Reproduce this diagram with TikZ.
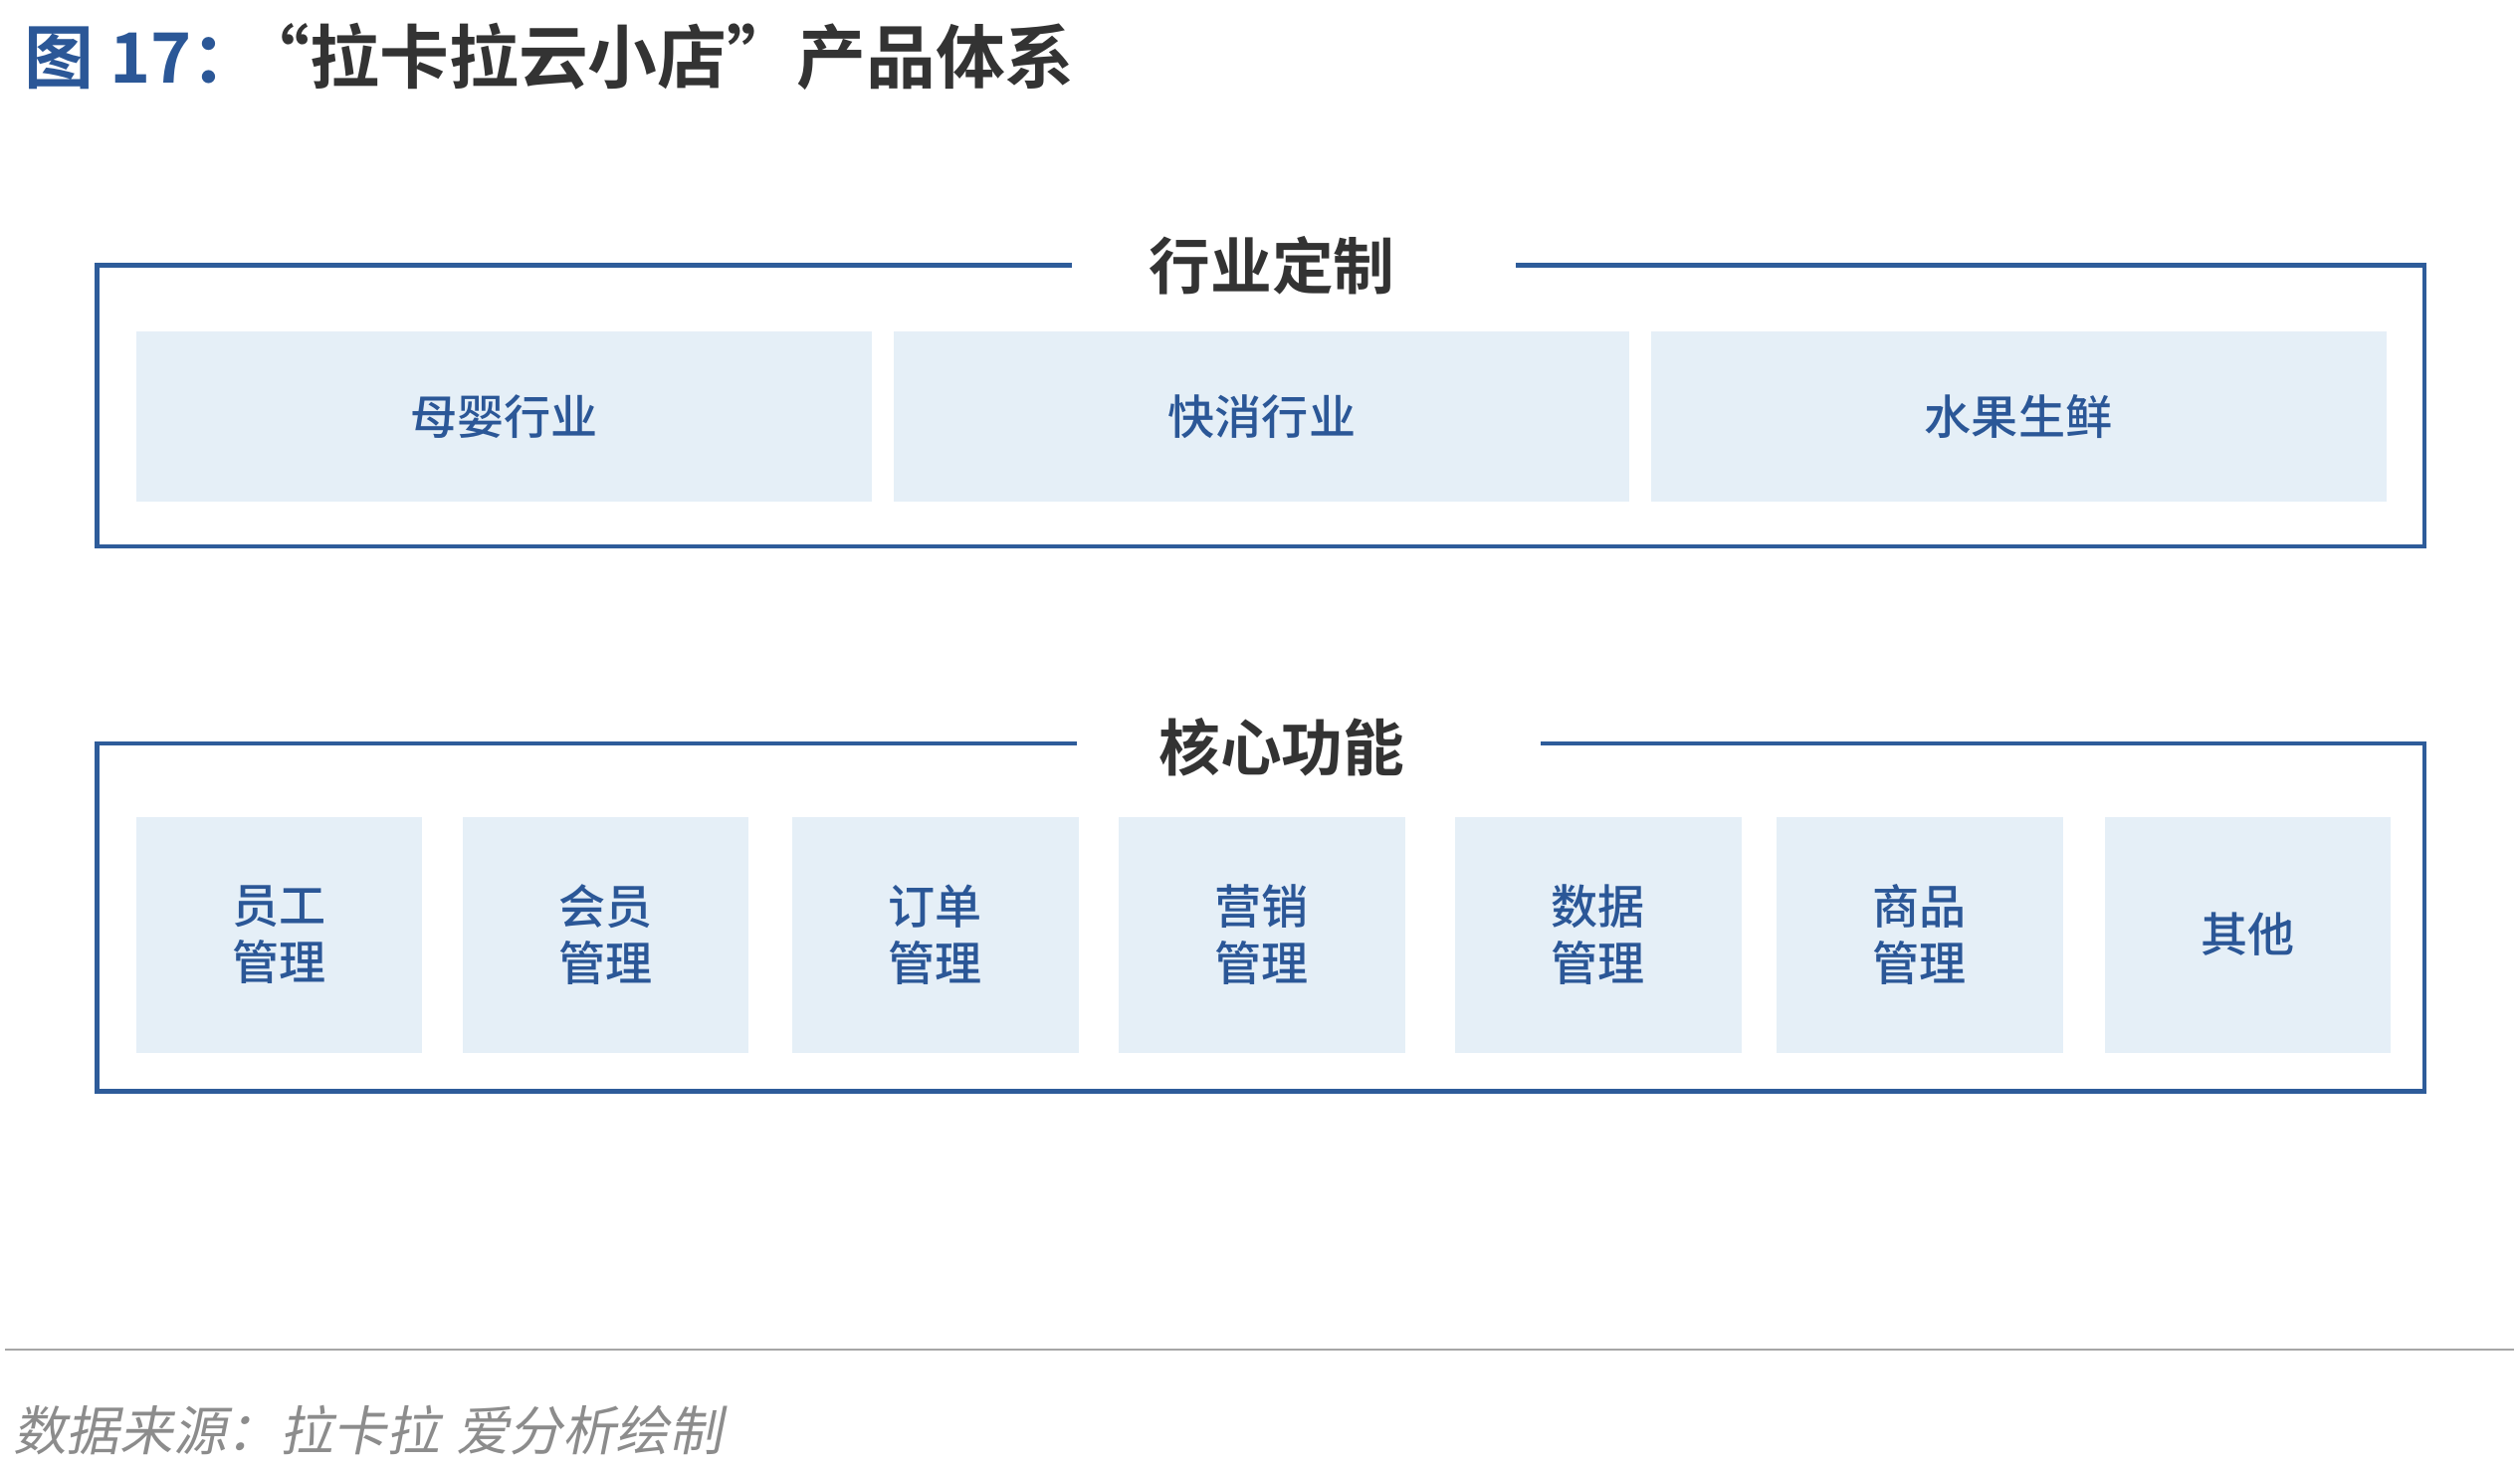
\documentclass[tikz,border=0pt]{standalone}
\usepackage{fontspec}
\setmainfont{Noto Sans CJK SC}
\newfontfamily\cjkb{Noto Sans CJK SC Bold}
\newfontfamily\cjkm{Noto Sans CJK SC Medium}
\newfontfamily\cjkit[FakeSlant=0.2]{Noto Sans CJK SC}
\definecolor{frameblue}{HTML}{2E5C9A}
\definecolor{cellfill}{HTML}{E5EFF7}
\definecolor{celltext}{HTML}{2B5797}
\definecolor{titlegray}{HTML}{333333}
\tikzset{
  frame/.style={draw=frameblue,line width=2.8pt},
  cell/.style={fill=cellfill,draw=none,anchor=north west,inner sep=0pt,text=celltext,align=center,font=\cjkm\fontsize{29}{35}\selectfont},
  head/.style={text=titlegray,font=\cjkb\fontsize{38}{44}\selectfont,inner sep=0pt},
}
\begin{document}
\begin{tikzpicture}[x=1pt,y=-1pt]
\useasboundingbox (0,0) rectangle (1559,910);
\node[anchor=west,inner sep=0pt,font=\cjkb\fontsize{43}{50}\selectfont] (title) at (15,35) {\textcolor{celltext}{图 17：}\hspace{-0.3em}\textcolor{titlegray}{“拉卡拉云小店”产品体系}};
% box 1
\draw[frame] (663,164) -- (60,164) -- (60,338) -- (1500,338) -- (1500,164) -- (938,164);
\node[head] (h1) at (787,164) {行业定制};
\foreach \n/\a/\b/\t in {c1/84/539/母婴行业,c2/553/1008/快消行业,c3/1021/1476/水果生鲜}{
  \node[cell,minimum width={\b-\a},minimum height=105] (\n) at (\a,205) {\t};
}
% box 2
\draw[frame] (666,460) -- (60,460) -- (60,675) -- (1500,675) -- (1500,460) -- (953,460);
\node[head] (h2) at (793,462) {核心功能};
\foreach \n/\a/\t in {d1/84/员工\\管理,d2/286/会员\\管理,d3/490/订单\\管理,d4/692/营销\\管理,d5/900/数据\\管理,d6/1099/商品\\管理,d7/1302/其他}{
  \node[cell,minimum width=177,minimum height=146] (\n) at (\a,505) {\t};
}
\draw[gray!70,line width=1.2pt] (3,835) coordinate (s1) -- (1555,835) coordinate (s2);
\node[anchor=west,inner sep=0pt,text=gray!90,font=\cjkit\fontsize{33}{38}\selectfont] (src) at (8,885) {数据来源：拉卡拉\hspace{0.3em}爱分析绘制};
\end{tikzpicture}
\end{document}
